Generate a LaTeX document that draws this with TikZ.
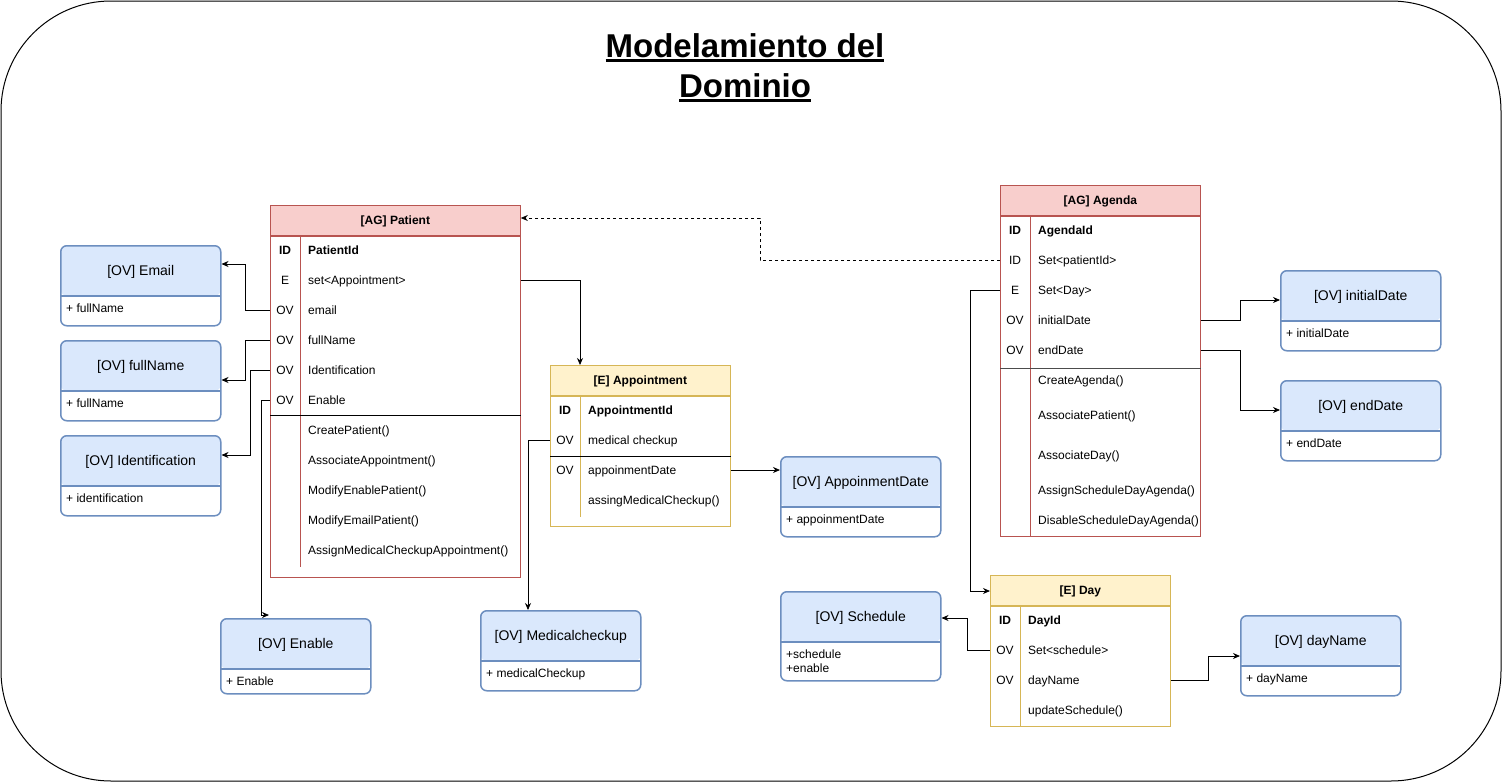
\documentclass[tikz,border=0pt]{standalone}
\usepackage{fontspec}
\setmainfont{Liberation Sans}
\usetikzlibrary{arrows.meta,positioning}
\definecolor{agfill}{HTML}{F8CECC}
\definecolor{agdraw}{HTML}{B85450}
\definecolor{efill}{HTML}{FFF2CC}
\definecolor{edraw}{HTML}{D6B656}
\definecolor{ovfill}{HTML}{DAE8FC}
\definecolor{ovdraw}{HTML}{6C8EBF}
\newcommand\titleul[1]{\setbox0\hbox{#1}\rlap{\vrule width\wd0 height -2pt depth 4.5pt}\box0}

\begin{document}
\begin{tikzpicture}[x=1pt,y=-1pt,
  every node/.style={font=\fontsize{12}{14}\selectfont},
  title/.style={anchor=base,inner sep=0,font=\fontsize{33}{40}\selectfont\bfseries},
  aghead/.style={draw=agdraw,fill=agfill,line width=0.8pt,anchor=north west,
                 minimum height=30pt,inner sep=0,text height=10.6pt,text depth=2pt,
                 font=\fontsize{12}{14}\selectfont\bfseries},
  ehead/.style={aghead,draw=edraw,fill=efill},
  body/.style={draw=#1,fill=white,line width=0.8pt,anchor=north west,inner sep=0},
  key/.style={inner sep=0,text height=10.6pt,text depth=2pt},
  row/.style={anchor=west,inner sep=0,text height=10.6pt,text depth=2pt},
  ovbox/.style={draw=ovdraw,line width=1.5pt,fill=white,rounded corners=6pt,
                anchor=north west,minimum width=#1,minimum height=80pt,inner sep=0,
                path picture={
                  \fill[ovfill] (path picture bounding box.north west)
                    rectangle ([yshift=-50pt]path picture bounding box.north east);
                  \draw[ovdraw,line width=1.5pt] ([yshift=-50pt]path picture bounding box.north west)
                    -- ([yshift=-50pt]path picture bounding box.north east);}},
  ovbox/.default=160,
  ovtitle/.style={inner sep=0,text height=12pt,text depth=2pt,font=\fontsize{14}{16}\selectfont},
  ovtext/.style={anchor=north west,align=left,inner sep=0},
  arr/.style={-{Stealth[length=7pt,width=6pt]},line width=0.8pt}
]
\useasboundingbox (0,0) rectangle (1502,782);
\draw[line width=1pt,rounded corners=110pt] (1,1) rectangle (1501,781);

\node[title] (title) at (745,57) {\titleul{Modelamiento del}};
\node[title] (title2) at (745,97) {\titleul{Dominio}};

% aggregate Patient
\node[aghead,minimum width=250pt] (Patient) at (270,205) {[AG] Patient};
\node[body=agdraw,minimum width=250pt,minimum height=341pt] (Patient-b) at (Patient.south west) {};
\draw[agdraw,line width=0.8pt] ([xshift=30pt]Patient-b.north west) -- ([xshift=30pt,yshift=11pt]Patient-b.south west);
\draw[line width=0.8pt] ([yshift=-180pt]Patient-b.north west) -- ([yshift=-180pt]Patient-b.north east);
\foreach \k/\t [count=\i from 0] in {\textbf{ID}/\textbf{PatientId}, E/set<Appointment>,
    OV/email, OV/fullName, OV/Identification, OV/Enable}{
  \node[key] (Patient-k\i) at (285,250+30*\i) {\k};
  \node[row] (Patient-r\i) at (308,250+30*\i) {\t};
}
\foreach \t [count=\i] in {CreatePatient(), AssociateAppointment(), ModifyEnablePatient(),
    ModifyEmailPatient(), AssignMedicalCheckupAppointment()}
  \node[row] (Patient-m\i) at (308,400+30*\i) {\t};

% entity Appointment
\node[ehead,minimum width=180pt] (Appt) at (550,365) {[E] Appointment};
\node[body=edraw,minimum width=180pt,minimum height=130pt] (Appt-b) at (Appt.south west) {};
\draw[edraw,line width=0.8pt] ([xshift=30pt]Appt-b.north west) -- ([xshift=30pt,yshift=10pt]Appt-b.south west);
\draw[line width=0.8pt] ([yshift=-61pt]Appt-b.north west) -- ([yshift=-61pt]Appt-b.north east);
\foreach \k/\t [count=\i from 0] in {\textbf{ID}/\textbf{AppointmentId}, OV/medical checkup,
    OV/appoinmentDate, /assingMedicalCheckup()}{
  \node[key] (Appt-k\i) at (565,410+30*\i) {\k};
  \node[row] (Appt-r\i) at (588,410+30*\i) {\t};
}

% aggregate Agenda
\node[aghead,minimum width=200pt] (Agenda) at (1000,185) {[AG] Agenda};
\node[body=agdraw,minimum width=200pt,minimum height=320pt] (Agenda-b) at (Agenda.south west) {};
\draw[agdraw,line width=0.8pt] ([xshift=30pt]Agenda-b.north west) -- ([xshift=30pt]Agenda-b.south west);
\draw[line width=0.8pt,black!70] ([yshift=-153pt]Agenda-b.north west) -- ([yshift=-153pt]Agenda-b.north east);
\foreach \k/\t [count=\i from 0] in {\textbf{ID}/\textbf{AgendaId}, ID/Set<patientId>,
    E/Set<Day>, OV/initialDate, OV/endDate}{
  \node[key] (Agenda-k\i) at (1015,230+30*\i) {\k};
  \node[row] (Agenda-r\i) at (1038,230+30*\i) {\t};
}
\foreach \t/\y [count=\i] in {CreateAgenda()/380, AssociatePatient()/415, AssociateDay()/455,
    AssignScheduleDayAgenda()/490, DisableScheduleDayAgenda()/520}
  \node[row] (Agenda-m\i) at (1038,\y) {\t};

% entity Day
\node[ehead,minimum width=180pt] (Day) at (990,575) {[E] Day};
\node[body=edraw,minimum width=180pt,minimum height=120pt] (Day-b) at (Day.south west) {};
\draw[edraw,line width=0.8pt] ([xshift=30pt]Day-b.north west) -- ([xshift=30pt]Day-b.south west);
\foreach \k/\t [count=\i from 0] in {\textbf{ID}/\textbf{DayId}, OV/Set<schedule>,
    OV/dayName, /updateSchedule()}{
  \node[key] (Day-k\i) at (1005,620+30*\i) {\k};
  \node[row] (Day-r\i) at (1028,620+30*\i) {\t};
}

% value objects
\foreach \n/\x/\y/\w/\h/\t/\f in {
    Email/60/245/160/80/{[OV] Email}/{+ fullName},
    Fname/60/340/160/80/{[OV] fullName}/{+ fullName},
    Ident/60/435/160/80/{[OV] Identification}/{+ identification},
    Enable/220/618/150/75/{[OV] Enable}/{+ Enable},
    Medchk/480/610/160/80/{[OV] Medicalcheckup}/{+ medicalCheckup},
    ApDate/780/456/160/80/{[OV] AppoinmentDate}/{+ appoinmentDate},
    InitDate/1280/270/160/80/{[OV] initialDate}/{+ initialDate},
    EndDate/1280/380/160/80/{[OV] endDate}/{+ endDate},
    Sched/780/591/160/89/{[OV] Schedule}/{+schedule\\+enable},
    DayName/1240/615/160/80/{[OV] dayName}/{+ dayName}}{
  \node[ovbox=\w,minimum height=\h] (\n) at (\x,\y) {};
  \node[ovtitle] (\n-t) at ([yshift=-25pt]\n.north) {\t};
  \node[ovtext] (\n-f) at ([xshift=6pt,yshift=-59pt]\n.north west) {\f};
}

% connectors
\draw[arr] (Patient-b.east |- Patient-r1) -| ([xshift=30pt]Appt.north west);
\draw[arr] (Patient-b.west |- Patient-r2) -- ++(-25,0) |- ([yshift=-19pt]Email.north east);
\draw[arr] (Patient-b.west |- Patient-r3) -- ++(-25,0) |- ([yshift=-40pt]Fname.north east);
\draw[arr] (Patient-b.west |- Patient-r4) -- ++(-20,0) |- ([yshift=-20pt]Ident.north east);
\draw[arr] (Patient-b.west |- Patient-r5) -- ++(-9,0) |- ([xshift=49pt,yshift=3pt]Enable.north west);
\draw[arr] (Appt-b.west |- Appt-r1) -| ([xshift=48pt]Medchk.north west);
\draw[arr] (Appt-b.east |- Appt-r2) -- (ApDate.west |- Appt-r2);
\draw[arr,dashed] (Agenda-b.west |- Agenda-r1) -- ++(-240,0) |- ([yshift=-13pt]Patient.north east);
\draw[arr] (Agenda-b.west |- Agenda-r2) -- ++(-30,0) |- ([yshift=-16pt]Day.north west);
\draw[arr] (Agenda-b.east |- Agenda-r3) -- ++(40,0) |- ([yshift=-30pt]InitDate.north west);
\draw[arr] (Agenda-b.east |- Agenda-r4) -- ++(40,0) |- ([yshift=-30pt]EndDate.north west);
\draw[arr] (Day-b.west |- Day-r1) -- ++(-23,0) |- ([yshift=-27pt]Sched.north east);
\draw[arr] (Day-b.east |- Day-r2) -- ++(38,0) |- ([yshift=-41pt]DayName.north west);
\end{tikzpicture}
\end{document}
